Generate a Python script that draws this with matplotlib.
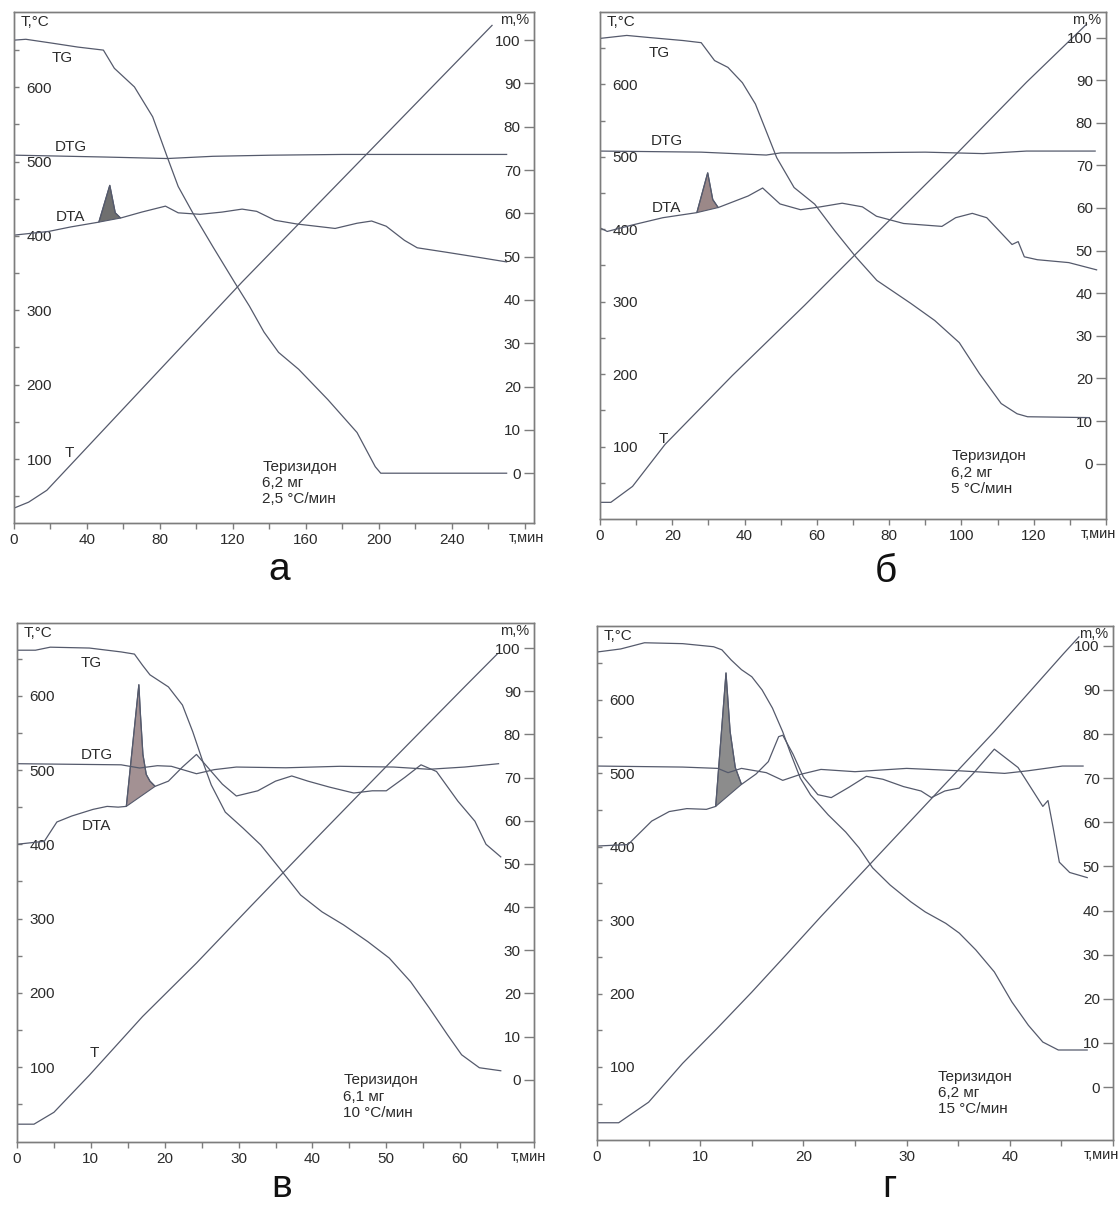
import matplotlib
matplotlib.use("Agg")
import matplotlib.pyplot as plt
from matplotlib.ticker import MultipleLocator, FixedLocator

plt.rcParams['font.family'] = ['Liberation Sans', 'DejaVu Sans']
plt.rcParams['font.size'] = 11

LINE = '#555a6c'
FRAME = '#7d7d7d'
INK = '#2b2b2b'

T_ticks = [100, 200, 300, 400, 500, 600]
T_minor = [50, 150, 250, 350, 450, 550, 650]
m_ticks = [0, 10, 20, 30, 40, 50, 60, 70, 80, 90, 100]

# --- а : 2,5 °C/мин ---
a_xticks = [0, 40, 80, 120, 160, 200, 240]
a_T_t = [0, 8, 18, 125, 262]
a_T_v = [34, 42, 58, 338, 683]
a_tg_t = [0, 6.5, 21, 35, 49, 55, 66, 76, 84, 90, 98, 109, 121, 129, 137, 145, 156, 172, 188, 198, 201, 270]
a_tg_v = [100, 100.2, 99.3, 98.4, 97.7, 93.5, 89.2, 82.3, 73, 66.2, 60.1, 52.3, 44, 38.6, 32.6, 27.9, 24, 17, 9.4, 1.5, 0, 0]
a_dtg_t = [1, 50, 84, 109, 141, 180, 270]
a_dtg_v = [508.5, 506, 504, 507, 508.5, 509.5, 509.5]
a_dta_t = [0, 19, 31, 46.5, 52.5, 55.5, 58.4, 70, 83, 90, 102, 114, 125, 133, 143, 155, 176, 188, 196, 204, 214, 221, 237, 255, 270]
a_dta_v = [401, 406, 412, 418.5, 468, 431, 424, 432, 440, 431, 429, 432, 436, 433, 421, 416, 410, 417, 420, 413, 394, 384, 378, 371, 365]
a_peak = (3, 6)

# --- б : 5 °C/мин ---
b_xticks = [0, 20, 40, 60, 80, 100, 120]
b_T_t = [0, 3, 9, 18, 36.6, 56.6, 80, 99, 118, 134.6]
b_T_v = [23, 23, 45, 103, 198, 295, 412, 506, 603, 683]
b_tg_t = [0, 7.4, 13.7, 23, 28, 31.7, 35.4, 39.4, 43, 46, 48.9, 53.7, 59.4, 65, 70.9, 76.6, 86, 92.6, 99.4, 105, 111, 115.4, 118.3, 135.4]
b_tg_v = [99.8, 100.5, 100, 99.3, 98.8, 94.6, 93, 89.4, 84.4, 78, 71.8, 64.8, 60.9, 54.6, 48.4, 43, 37.6, 33.6, 28.4, 21.1, 14.1, 11.7, 11, 10.8]
b_dtg_t = [0, 28, 46, 50, 66, 90, 106, 118, 137]
b_dtg_v = [508, 506.5, 502.5, 505.5, 505.5, 506.5, 504.5, 508, 508]
b_dta_t = [0, 2, 9, 17.4, 26.8, 29.8, 31.2, 32.7, 41, 45, 49.8, 55.5, 61, 67, 72.6, 76.5, 84, 94.6, 98.4, 103, 107, 114, 115.7, 117.4, 121, 129.7, 137.4]
b_dta_v = [402, 397, 406, 416, 423, 478, 441, 430, 446, 457, 435, 427, 431, 436, 431, 418, 408, 404, 416, 422, 416, 379, 383, 362, 358, 354, 344]
b_peak = (4, 7)

# --- в : 10 °C/мин ---
c_xticks = [0, 10, 20, 30, 40, 50, 60]
c_T_t = [0, 2.3, 5, 9.8, 17, 24.3, 31.6, 41.3, 51, 60.6, 65]
c_T_v = [23, 23, 39, 89, 168, 240, 316, 416, 515, 612, 656]
c_tg_t = [0, 2.5, 4.5, 9.8, 14.1, 15.9, 17, 18, 20.5, 22.4, 23.8, 25.3, 26.3, 28.2, 30.6, 33, 35.5, 38.4, 41.3, 44.2, 47.5, 50.4, 53.3, 55.8, 58.3, 60.2, 62.6, 65.5]
c_tg_v = [99.5, 99.5, 100.2, 100, 99.1, 98.6, 96, 93.8, 91, 86.8, 80.6, 73, 68.3, 62, 58.3, 54.4, 49.1, 42.8, 38.9, 35.9, 32, 28.2, 22.7, 16.7, 10.4, 5.8, 2.8, 2.1]
c_dtg_t = [0, 14.1, 16.6, 19, 20.9, 24.3, 26.7, 29.7, 36.4, 43.7, 51, 55.8, 60.6, 65.2]
c_dtg_v = [508.5, 507, 502.7, 505.8, 505, 495, 500.5, 504, 503, 505, 504, 501, 504, 508.5]
c_dta_t = [0, 3.7, 5.4, 7.4, 10.3, 12.2, 13.7, 14.8, 16.5, 16.7, 17.05, 17.5, 18, 18.7, 20.5, 22.4, 24.3, 25.7, 27.8, 29.7, 32.6, 35, 37.2, 39.4, 42.3, 45.6, 48.1, 50, 52.5, 54.7, 56.8, 59.7, 62, 63.5, 65.5]
c_dta_v = [400, 404, 430, 438, 447, 451, 450, 451, 615, 577, 521, 494, 485, 478, 485, 504, 521, 505, 481, 465, 472, 485, 492, 485, 477, 469, 472, 472, 490, 507, 498, 458, 431, 400, 383]
c_peak = (7, 13)

# --- г : 15 °C/мин ---
d_xticks = [0, 10, 20, 30, 40]
d_T_t = [0, 2.1, 5, 8.3, 11.6, 15, 18.4, 21.7, 26.7, 31.7, 38.5, 45.2, 46.7]
d_T_v = [24, 24, 52, 105, 152, 202, 254, 305, 380, 455, 557, 663, 686]
d_tg_t = [0, 2.3, 4.6, 8.3, 11.3, 12.1, 13, 14, 15, 16, 17, 18, 18.7, 19.7, 20.7, 22.4, 24.1, 25.4, 26.7, 28.4, 30.4, 31.8, 33.8, 35.1, 36.7, 38.5, 40.2, 41.8, 43.2, 44.7, 47.5]
d_tg_v = [98.6, 99.3, 100.7, 100.5, 99.8, 99.1, 96.8, 94.6, 93, 90, 85.9, 80.5, 76, 70, 66.2, 61.7, 57.8, 54.2, 49.7, 45.8, 42, 39.7, 37.1, 34.9, 31.1, 26.1, 19.3, 14, 10.2, 8.4, 8.4]
d_dtg_t = [0, 8.3, 11.7, 12.7, 14, 16.4, 18, 19.7, 21.7, 25, 30, 35, 39.5, 41.8, 45.1, 47.1]
d_dtg_v = [510, 508.6, 506.8, 501, 506.8, 501, 490.5, 498.6, 505.4, 502.3, 506.8, 503.6, 500, 503.6, 510, 510]
d_dta_t = [0, 3, 5.3, 7, 8.7, 10.6, 11.5, 12.5, 12.9, 13.4, 14, 15.4, 16.6, 17.6, 18, 19, 20, 21.4, 22.7, 24.4, 26.1, 27.7, 29.7, 31.4, 32.4, 33.7, 35.1, 36.4, 38.5, 40.8, 43.2, 43.7, 44.2, 44.8, 45.8, 47.5]
d_dta_v = [401, 403, 435, 448, 452, 451, 455, 637, 557, 508, 485, 499, 516, 550, 552, 526, 495, 471, 467, 481, 496, 492, 482, 476, 467, 476, 480, 499, 533, 508, 455, 463, 426, 379, 365, 358]
d_peak = (6, 10)

fig = plt.figure(figsize=(11.2, 12.07), dpi=100)


def box(l, r, top, bot):
    W, H = 1120, 1207
    return [l / W, 1 - bot / H, (r - l) / W, (bot - top) / H]


def draw_panel(rect, tlim, Tlim, mlim, xticks, xminor, T_t, T_v, tg_t, tg_v,
               dtg_t, dtg_v, dta_t, dta_v, peak, fillc, names, note, note_at,
               unit_t, letter, letter_at):
    ax = fig.add_axes(rect)
    ax2 = ax.twinx()
    ax.set_xlim(*tlim)
    ax.set_ylim(*Tlim)
    ax2.set_ylim(*mlim)

    ax.set_xticks(xticks)
    ax.set_xticklabels([str(v) for v in xticks])
    ax.xaxis.set_minor_locator(MultipleLocator(xminor))
    ax.set_yticks(T_ticks)
    ax.set_yticklabels([str(v) for v in T_ticks])
    ax.yaxis.set_minor_locator(FixedLocator(T_minor))
    ax2.set_yticks(m_ticks)
    ax2.set_yticklabels([str(v) for v in m_ticks])

    ax.tick_params(axis='x', which='both', direction='out', length=4, width=1,
                   pad=3.5, color=FRAME, labelcolor=INK, labelsize=11)
    ax.tick_params(axis='y', which='both', direction='in', length=3.6, width=1,
                   pad=-9, color=FRAME, labelcolor=INK, labelsize=11)
    ax2.tick_params(axis='y', direction='in', length=7, width=1, pad=-9.5,
                    color=FRAME, labelcolor=INK, labelsize=11)
    for lab in ax.get_yticklabels():
        lab.set_horizontalalignment('left')
    for lab in ax2.get_yticklabels():
        lab.set_horizontalalignment('right')
    for a in (ax, ax2):
        for sp in a.spines.values():
            sp.set_color(FRAME)
            sp.set_linewidth(1)

    lw = 0.9
    ax.plot(T_t, T_v, color=LINE, lw=lw)
    ax.plot(dtg_t, dtg_v, color=LINE, lw=lw)
    ax.plot(dta_t, dta_v, color=LINE, lw=lw)
    i0, i1 = peak
    ax.fill(dta_t[i0:i1 + 1], dta_v[i0:i1 + 1], facecolor=fillc,
            edgecolor=LINE, lw=0.8)
    ax2.plot(tg_t, tg_v, color=LINE, lw=lw)

    for txt, tx, ty in names:
        ax.text(tx, ty, txt, ha='center', va='center', color=INK)
    ax.text(note_at[0], note_at[1], note, ha='left', va='top', color=INK,
            linespacing=1.2)

    ax.annotate('T,°C', xy=(0, 1), xycoords='axes fraction', xytext=(7, -3),
                textcoords='offset pixels', ha='left', va='top', color=INK)
    ax2.annotate('m,%', xy=(1, 1), xycoords='axes fraction', xytext=(-5, -1),
                 textcoords='offset pixels', ha='right', va='top', color=INK,
                 fontsize=10.5)
    ax.annotate('т,мин', xy=(unit_t, 0), xycoords=('data', 'axes fraction'),
                xytext=(0, -15), textcoords='offset pixels', ha='center',
                va='center', color=INK, fontsize=10.5, annotation_clip=False)
    fig.text(letter_at[0] / 1120, 1 - letter_at[1] / 1207, letter,
             ha='center', va='baseline', fontsize=28, color='#111111')


draw_panel(box(14, 534, 12, 523), (0, 285), (14, 701), (-11.5, 106.5),
           a_xticks, 20, a_T_t, a_T_v, a_tg_t, a_tg_v, a_dtg_t, a_dtg_v,
           a_dta_t, a_dta_v, a_peak, '#6f6f6f',
           [('TG', 26.4, 639), ('DTG', 31, 519), ('DTA', 31, 425), ('T', 30.3, 108)],
           'Теризидон\n6,2 мг\n2,5 °C/мин', (136, 99), 281, 'а', (279, 580))

draw_panel(box(600, 1106, 12, 519), (0, 140), (0, 700), (-13, 106),
           b_xticks, 10, b_T_t, b_T_v, b_tg_t, b_tg_v, b_dtg_t, b_dtg_v,
           b_dta_t, b_dta_v, b_peak, '#9b8888',
           [('TG', 16.5, 644), ('DTG', 18.4, 521.7), ('DTA', 18.4, 430), ('T', 17.4, 110)],
           'Теризидон\n6,2 мг\n5 °C/мин', (97.2, 96), 138, 'б', (886, 582))

draw_panel(box(17, 534, 623, 1142), (0, 70), (-1, 698), (-14.4, 105.8),
           c_xticks, 5, c_T_t, c_T_v, c_tg_t, c_tg_v, c_dtg_t, c_dtg_v,
           c_dta_t, c_dta_v, c_peak, '#a39193',
           [('TG', 10, 644), ('DTG', 10.8, 520.5), ('DTA', 10.8, 425), ('T', 10.5, 118.5)],
           'Теризидон\n6,1 мг\n10 °C/мин', (44.2, 91.5), 69.2, 'в', (282, 1197))

draw_panel(box(597, 1113, 626, 1140), (0, 50), (0.5, 700.8), (-12, 104.5),
           d_xticks, 5, d_T_t, d_T_v, d_tg_t, d_tg_v, d_dtg_t, d_dtg_v,
           d_dta_t, d_dta_v, d_peak, '#8c8c8c',
           [],
           'Теризидон\n6,2 мг\n15 °C/мин', (33, 96), 48.9, 'г', (889, 1197))

fig.savefig('out.png', dpi=100, facecolor='white')
